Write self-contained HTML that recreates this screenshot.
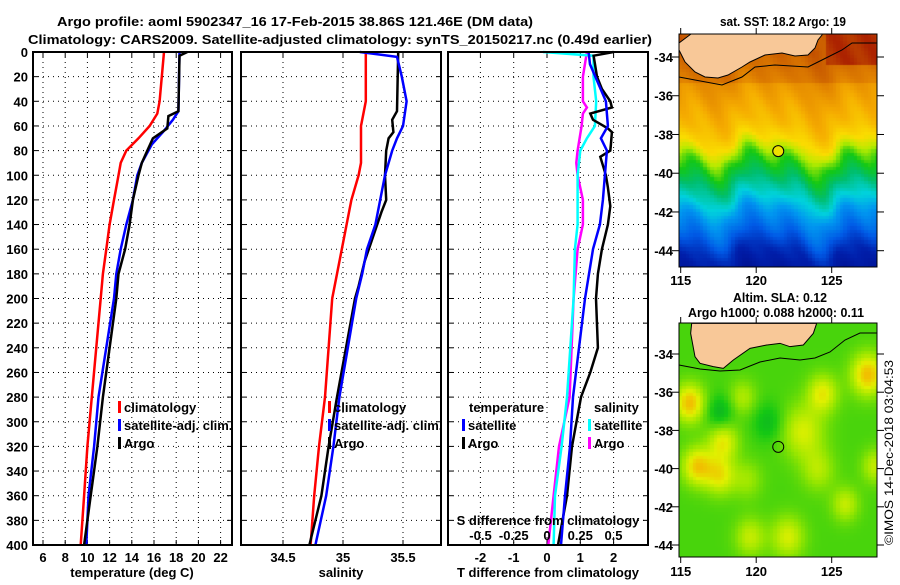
<!DOCTYPE html>
<html><head><meta charset="utf-8"><style>
body{margin:0;background:#fff;}
svg text{font-family:"Liberation Sans",sans-serif;font-weight:bold;font-size:13px;fill:#000;}
</style></head><body>
<div style="position:relative;width:900px;height:580px;">
<svg id="fig" width="900" height="580" viewBox="0 0 900 580" xmlns="http://www.w3.org/2000/svg">
<text x="57" y="26" textLength="476" lengthAdjust="spacingAndGlyphs">Argo profile: aoml 5902347_16 17-Feb-2015 38.86S 121.46E (DM data)</text>
<text x="28" y="44" textLength="624" lengthAdjust="spacingAndGlyphs">Climatology: CARS2009. Satellite-adjusted climatology: synTS_20150217.nc (0.49d earlier)</text>
<g id="panels"></g>
<text x="720" y="26" textLength="126" lengthAdjust="spacingAndGlyphs">sat. SST: 18.2 Argo: 19</text>
<text x="733" y="302" textLength="94" lengthAdjust="spacingAndGlyphs">Altim. SLA: 0.12</text>
<text x="688" y="317" textLength="176" lengthAdjust="spacingAndGlyphs">Argo h1000: 0.088 h2000: 0.11</text>
<text transform="translate(893,545) rotate(-90)" style="font-weight:normal;font-size:12px" textLength="185" lengthAdjust="spacingAndGlyphs">©IMOS 14-Dec-2018 03:04:53</text>
</svg>
<canvas id="sst" width="198" height="233" style="position:absolute;left:679px;top:34px;"></canvas>
<canvas id="sla" width="198" height="234" style="position:absolute;left:679px;top:323px;"></canvas>
<svg width="900" height="580" viewBox="0 0 900 580" style="position:absolute;left:0;top:0;pointer-events:none" id="ov" xmlns="http://www.w3.org/2000/svg"></svg>
</div>
<script>
// ---- data ----
const tClimDepth=[0,40,50,60,70,80,90,100,120,140,160,180,200,280,320,360,400];
const tClim=[16.9,16.5,16.3,15.6,14.6,13.5,13.0,12.8,12.4,12.0,11.7,11.4,11.2,10.4,10.0,9.7,9.4];
const tArgoDepth=[0,3,48,52,62,70,80,90,100,120,140,160,180,200,280,320,360,400];
const tArgo=[19.0,18.3,18.2,17.3,17.2,15.9,15.4,14.9,14.6,14.1,13.8,13.4,12.8,12.6,11.4,10.9,10.3,9.7];
const tSatDepth=[0,48,55,65,75,90,100,120,140,160,180,200,280,320,360,400];
const tSat=[18.3,18.2,17.7,16.8,15.8,14.9,14.5,14.1,13.5,13.0,12.6,12.4,11.0,10.6,10.1,9.9];
const sClimDepth=[0,40,60,90,100,120,140,160,180,200,280,320,360,400];
const sClim=[35.19,35.19,35.15,35.15,35.13,35.07,35.03,34.99,34.95,34.91,34.85,34.80,34.76,34.73];
const sArgoDepth=[0,48,55,65,70,80,100,120,130,150,170,190,200,280,320,360,400];
const sArgo=[35.46,35.45,35.41,35.42,35.38,35.36,35.35,35.36,35.32,35.25,35.18,35.13,35.10,34.95,34.88,34.82,34.72];
const sSatDepth=[0,4,20,40,60,70,80,100,120,140,160,180,200,280,320,360,400];
const sSat=[35.14,35.45,35.49,35.53,35.50,35.45,35.41,35.35,35.31,35.27,35.20,35.16,35.11,34.97,34.92,34.86,34.77];
const dTSatDepth=[0,10,40,60,70,80,100,120,140,160,180,200,280,320,360,400];
const dTSat=[1.25,1.29,1.77,1.83,1.62,1.8,1.74,1.68,1.59,1.38,1.26,1.14,0.78,0.69,0.54,0.42];
const dTArgoDepth=[0,3,20,30,40,45,50,55,62,65,75,80,85,100,110,125,140,160,180,200,240,260,280,320,360,400];
const dTArgo=[2.0,1.4,1.5,1.65,1.9,1.95,1.3,1.38,1.83,1.95,1.92,1.9,1.6,1.77,1.83,1.9,1.83,1.65,1.53,1.47,1.53,1.3,1.02,0.75,0.6,0.33];
const dSSatDepth=[0,3,20,40,60,70,80,100,140,160,200,280,320,360,400];
const dSSat=[-0.03,0.35,0.35,0.37,0.36,0.3,0.25,0.23,0.23,0.21,0.2,0.15,0.11,0.06,0.05];
const dSArgoDepth=[0,20,40,45,50,60,80,90,100,120,140,160,200,280,320,360,400];
const dSArgo=[0.3,0.27,0.27,0.3,0.27,0.26,0.23,0.22,0.23,0.27,0.27,0.23,0.2,0.17,0.09,0.05,0.01];
const depthTicks=[0,20,40,60,80,100,120,140,160,180,200,220,240,260,280,300,320,340,360,380,400];
const tTicks=[6,8,10,12,14,16,18,20,22];
const sTicks=[34.5,35,35.5];
const dTTicks=[-2,-1,0,1,2];
const dSTicks=[-0.5,-0.25,0,0.25,0.5];
const latTicks=[-34,-36,-38,-40,-42,-44];
const lonTicks=[115,120,125];

const NS='http://www.w3.org/2000/svg';
function mk(parent,tag,attrs){const e=document.createElementNS(NS,tag);for(const k in attrs)e.setAttribute(k,attrs[k]);parent.appendChild(e);return e;}
const g=document.getElementById('panels');
const Y0=52,Y1=545;
const yD=d=>Y0+(d/400)*(Y1-Y0);
function lin(d0,d1,r0,r1){return v=>r0+(v-d0)/(d1-d0)*(r1-r0);}
const xT=lin(6,22,43,220.6);
const xS=lin(34.5,35.5,283,403);
const xdT=lin(0,2,547,613.6);
const xdS=v=>547+v*133;
const panels=[[33,232],[241,441],[448,648]];

function frame(i,name){
 const [a,b]=panels[i];
 const r=mk(g,'rect',{x:a,y:Y0,width:b-a,height:Y1-Y0,fill:'none',stroke:'#000','stroke-width':2});
 
 
}
function hgrid(i){
 const [a,b]=panels[i];
 depthTicks.forEach(d=>{ if(d>0&&d<400){const l=mk(g,'line',{x1:a,x2:b,y1:yD(d),y2:yD(d),stroke:'#000','stroke-dasharray':'1 4','stroke-width':1});
  
  }
  mk(g,'line',{x1:a,x2:a+5,y1:yD(d),y2:yD(d),stroke:'#000'});
  mk(g,'line',{x1:b-5,x2:b,y1:yD(d),y2:yD(d),stroke:'#000'});
 });
}
function vgrid(i,ticks,fx,labels,ly){
 ticks.forEach((t,k)=>{const x=fx(t);
  const l=mk(g,'line',{x1:x,x2:x,y1:Y0,y2:Y1,stroke:'#000','stroke-dasharray':'1 4'});
  
  
  mk(g,'line',{x1:x,x2:x,y1:Y1-5,y2:Y1,stroke:'#000'});
  mk(g,'line',{x1:x,x2:x,y1:Y0,y2:Y0+5,stroke:'#000'});
  const tx=mk(g,'text',{x:x,y:ly,'text-anchor':'middle'});tx.textContent=labels?labels[k]:String(t);
  
  
 });
}
function line(depths,vals,fx,color,name){
 const pts=depths.map((d,k)=>fx(vals[k]).toFixed(1)+','+yD(d).toFixed(1)).join(' ');
 const p=mk(g,'polyline',{points:pts,fill:'none',stroke:color,'stroke-width':2.5});
 
 
}
function txt(x,y,s,name,anchor){const t=mk(g,'text',{x:x,y:y,'text-anchor':anchor||'start'});t.textContent=s;
 
 return t;}
function leg(x,y,color,s,name){mk(g,'rect',{x:x,y:y-11,width:3,height:12,fill:color});txt(x+6,y,s,name);}

depthTicks.forEach(d=>{txt(28,yD(d)+5,String(d),'depth-tick-label','end');});
[0,1,2].forEach(i=>hgrid(i));
vgrid(0,tTicks,xT,null,562);
vgrid(1,sTicks,xS,null,562);
vgrid(2,dTTicks,xdT,null,562);
line(tClimDepth,tClim,xT,'#ff0000','temperature-climatology-line');
line(tSatDepth,tSat,xT,'#0000ff','temperature-satellite-line');
line(tArgoDepth,tArgo,xT,'#000','temperature-argo-line');
line(sClimDepth,sClim,xS,'#ff0000','salinity-climatology-line');
line(sArgoDepth,sArgo,xS,'#000','salinity-argo-line');
line(sSatDepth,sSat,xS,'#0000ff','salinity-satellite-line');
line(dSArgoDepth,dSArgo,xdS,'#ff00ff','s-diff-argo-line');
line(dSSatDepth,dSSat,xdS,'#00ffff','s-diff-satellite-line');
line(dTArgoDepth,dTArgo,xdT,'#000','t-diff-argo-line');
line(dTSatDepth,dTSat,xdT,'#0000ff','t-diff-satellite-line');
frame(0,'temperature-panel');frame(1,'salinity-panel');frame(2,'difference-panel');
txt(132,577,'temperature (deg C)','temperature-axis-title','middle');
txt(341,577,'salinity','salinity-axis-title','middle');
txt(548,577,'T difference from climatology','t-diff-axis-title','middle');
txt(548,525,'S difference from climatology','s-diff-axis-title','middle');
dSTicks.forEach(v=>txt(xdS(v),540,String(v),'s-diff-tick-label','middle'));
leg(118,412,'#ff0000','climatology','legend-climatology');
leg(118,430,'#0000ff','satellite-adj. clim.','legend-satellite-adj');
leg(118,448,'#000','Argo','legend-argo');
leg(328,412,'#ff0000','climatology','legend-sal-climatology');
leg(328,430,'#0000ff','satellite-adj. clim.','legend-sal-satellite-adj');
leg(328,448,'#000','Argo','legend-sal-argo');
txt(469,412,'temperature','legend-temperature-header');
leg(462,430,'#0000ff','satellite','legend-t-satellite');
leg(462,448,'#000','Argo','legend-t-argo');
txt(594,412,'salinity','legend-salinity-header');
leg(588,430,'#00ffff','satellite','legend-s-satellite');
leg(588,448,'#ff00ff','Argo','legend-s-argo');

// ---- maps ----
const ov=document.getElementById('ov');
const LONPX=15.1, LON0X=680.7;
function cmap(t,stops){t=Math.max(0,Math.min(1,t));for(let i=1;i<stops.length;i++){if(t<=stops[i][0]){const a=stops[i-1],b=stops[i],f=(t-a[0])/(b[0]-a[0]);return 'rgb('+[0,1,2].map(k=>Math.round(a[1][k]+(b[1][k]-a[1][k])*f)).join(',')+')';}}return 'rgb('+stops[stops.length-1][1].join(',')+')';}
const sstStops=[[0,[0,10,130]],[0.1,[0,30,170]],[0.2,[0,90,230]],[0.3,[0,150,240]],[0.38,[0,210,220]],[0.45,[0,190,110]],[0.52,[20,200,20]],[0.58,[180,235,0]],[0.64,[250,220,0]],[0.72,[245,170,0]],[0.8,[225,130,0]],[0.88,[200,90,0]],[0.95,[170,30,0]],[1,[150,10,0]]];
const slaStops=[[0,[0,150,60]],[0.3,[20,200,20]],[0.6,[150,230,0]],[0.8,[225,240,0]],[1,[245,180,0]]];
function mapGeo(top,bot){return {lon:x=>115+(x-LON0X)/LONPX,lat:y=>-34-(y-top)/((bot-top)/10)};}
(function(){const c=document.getElementById('sst').getContext('2d');const m=mapGeo(57,250.7);
 const pts=[[-33,0.84],[-34.5,0.8],[-35.5,0.76],[-36.5,0.72],[-37.5,0.69],[-38.3,0.64],[-39,0.56],[-39.8,0.5],[-40.5,0.44],[-41.3,0.38],[-42,0.3],[-43,0.22],[-44,0.12],[-45.5,0.05]];
 for(let y=0;y<233;y+=3.5)for(let x=0;x<198;x+=3.5){const lo=m.lon(679+x),la=m.lat(34+y);
  const sh=0.45*Math.sin(lo*0.9)+0.3*Math.sin(lo*1.9+1.3);
  const L=la-sh;
  let t=pts[0][1];
  if(L<pts[0][0]){t=0.05;for(let i=1;i<pts.length;i++){if(L>=pts[i][0]){const a=pts[i-1],b=pts[i];t=a[1]+(L-a[0])/(b[0]-a[0])*(b[1]-a[1]);break;}}}
  if(la>-35.2) t+=0.04;
  if(lo>124.5&&la>-34.3) t=Math.max(t,0.93);
  t+=0.015*Math.sin(lo*3+la*2);
  c.fillStyle=cmap(t,sstStops);c.fillRect(Math.floor(x),Math.floor(y),4,4);}
})();
(function(){const c=document.getElementById('sla').getContext('2d');const m=mapGeo(354,545);
 const blobs=[[115.5,-36.5,0.55,1.0],[127.3,-35,0.55,1.1],[124.3,-36,0.4,1.0],[117.7,-38.5,0.4,1.0],[116,-39.8,0.5,1.0],[117.5,-40.3,0.4,1.0],[123,-38,0.35,1.4],[122,-43.5,0.35,1.1],[119.5,-43.5,0.3,1.0],[125.8,-41.8,0.3,0.9],[127.8,-39.8,0.3,0.9],[117.5,-37,-0.25,0.9],[120.7,-37.5,-0.2,1.0],[124,-40,0.25,1.1],[119.3,-40.5,0.2,1.0],[119,-36.2,0.25,0.9]];
 for(let y=0;y<234;y+=3.5)for(let x=0;x<198;x+=3.5){const lo=m.lon(679+x),la=m.lat(323+y);let t=0.42;
  blobs.forEach(b=>{const d=((lo-b[0])**2+(la-b[1])**2)/(b[3]*b[3]);t+=b[2]*Math.exp(-d);});
  c.fillStyle=cmap(t,slaStops);c.fillRect(Math.floor(x),Math.floor(y),4,4);}
})();
function mk2(tag,attrs){return mk(ov,tag,attrs);}
const sstLand=[[691,34],[679,43],[679,50],[685,62],[695,72],[705,77],[718,78],[728,75],[742,67],[750,62],[765,55],[782,53],[795,56],[808,55],[815,48],[818,40],[822,35],[822,34]];
let lp=mk2('polygon',{points:sstLand.map(p=>p.join(',')).join(' '),fill:'#f8c898',stroke:'#000','stroke-width':1});


mk2('polyline',{points:'679,77 695,80 722,85 742,77 755,67 775,65 808,67 822,60 842,50 852,43 877,43',fill:'none',stroke:'#000','stroke-width':1});
const slaLand=[[65,100],[62,130],[75,200],[90,220],[130,230],[160,235],[190,210],[240,175],[290,165],[330,160],[360,170],[400,165],[430,130],[440,100]].map(p=>[670+p[0]/3,290+p[1]/3]);
lp=mk2('polygon',{points:slaLand.map(p=>p.join(',')).join(' '),fill:'#f8c898',stroke:'#000','stroke-width':1});


mk2('polyline',{points:'679,365 700,369 720,371 740,370 760,362 780,358 800,360 815,358 830,352 845,340 860,333 877,333',fill:'none',stroke:'#000','stroke-width':1});
function mapAxes(top,bot,name,lblY,lat0y,latpx){
 const r=mk2('rect',{x:679,y:top,width:198,height:bot-top,fill:'none',stroke:'#000','stroke-width':1});
 
 
 const yl=la=>lat0y+(-34-la)*latpx;
 latTicks.forEach(la=>{const y=yl(la);mk2('line',{x1:672,x2:679,y1:y,y2:y,stroke:'#000'});mk2('line',{x1:877,x2:884,y1:y,y2:y,stroke:'#000'});
  const t=mk2('text',{x:673,y:y+5,'text-anchor':'end'});t.textContent=String(la);
  
  });
 lonTicks.forEach(lo=>{const x=LON0X+(lo-115)*LONPX;mk2('line',{x1:x,x2:x,y1:bot,y2:bot+6,stroke:'#000'});mk2('line',{x1:x,x2:x,y1:top-6,y2:top,stroke:'#000'});
  const t=mk2('text',{x:x,y:lblY,'text-anchor':'middle'});t.textContent=String(lo);
  
  });
}
mapAxes(34,267,'sst-map-frame',285,57,19.37);
mapAxes(323,557,'sla-map-frame',576,354,19.1);
let c1=mk2('circle',{cx:LON0X+(121.46-115)*LONPX,cy:57+4.86*19.37,r:5.5,fill:'#f0e000',stroke:'#000','stroke-width':1});


let c2=mk2('circle',{cx:LON0X+(121.46-115)*LONPX,cy:354+4.86*19.1,r:5.5,fill:'none',stroke:'#000','stroke-width':1});


</script>
</body></html>
